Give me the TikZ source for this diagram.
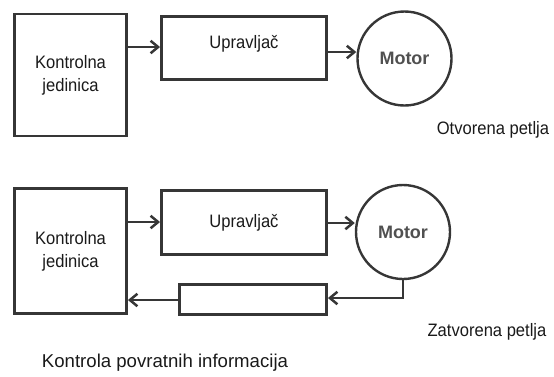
\documentclass[tikz,border=0pt]{standalone}
\usepackage{fontspec}
\setmainfont{Liberation Sans}
\newfontfamily\narrowf{Liberation Sans}[FakeStretch=0.92]
\usetikzlibrary{arrows.meta}
\definecolor{linec}{HTML}{363636}
\definecolor{txtc}{HTML}{1a1a1a}
\definecolor{motc}{HTML}{505050}
\begin{document}
\begin{tikzpicture}[x=1pt,y=-1pt,
  box/.style={draw=linec,line width=2.9pt,inner sep=0pt,text=txtc,font=\narrowf\fontsize{18}{23}\selectfont,align=center},
  motorc/.style={draw=linec,line width=2.4pt,circle,minimum size=94pt,inner sep=0pt,text=motc,font=\fontsize{18}{20}\selectfont\bfseries},
  arr/.style={draw=linec,line width=2.9pt,-{Straight Barb[length=7.5pt,width=12.5pt,line width=2.5pt]}},
  lbl/.style={text=txtc,font=\narrowf\fontsize{18}{20}\selectfont,inner sep=0pt}]
\useasboundingbox (0,0) rectangle (554,376);
% top
\node[box,minimum width=112pt,minimum height=122pt] (k1) at (70.5,75) {Kontrolna\\jedinica};
\node[box,minimum width=165pt,minimum height=63pt] (u1) at (244,48) {};
\node[text=txtc,font=\narrowf\fontsize{18}{20}\selectfont,inner sep=0pt] (t1) at (u1.center) [yshift=4pt] {Upravljač};
\node[motorc] (m1) at (404.5,58.5) {Motor};
\node[lbl] (o1) at (493,130) {Otvorena petlja};
\draw[arr] (k1.east |- 0,47) -- (u1.west |- 0,47);
\draw[arr] (u1.east |- 0,52) -- (m1.west |- 0,52);
% bottom
\node[box,minimum width=112pt,minimum height=125pt] (k2) at (70.5,251) {Kontrolna\\jedinica};
\node[box,minimum width=165pt,minimum height=64pt] (u2) at (244,222.5) {};
\node[text=txtc,font=\narrowf\fontsize{18}{20}\selectfont,inner sep=0pt] (t2) at (u2.center) {Upravljač};
\node[box,minimum width=147pt,minimum height=30pt] (f2) at (253,299.5) {};
\node[motorc] (m2) at (403,232) {Motor};
\coordinate (c2) at (m2.south |- 0,298);
\node[lbl] (z2) at (487,332) {Zatvorena petlja};
\node[lbl,font=\fontsize{18.6}{20}\selectfont] (kp) at (165,363) {Kontrola povratnih informacija};
\draw[arr] (k2.east |- 0,222) -- (u2.west |- 0,222);
\draw[arr] (u2.east |- 0,223) -- (m2.west |- 0,223);
\draw[arr] (m2.south) -- (c2) -- (f2.east |- 0,298);
\draw[arr] (f2.west |- 0,300) -- (k2.east |- 0,300);
\end{tikzpicture}
\end{document}
